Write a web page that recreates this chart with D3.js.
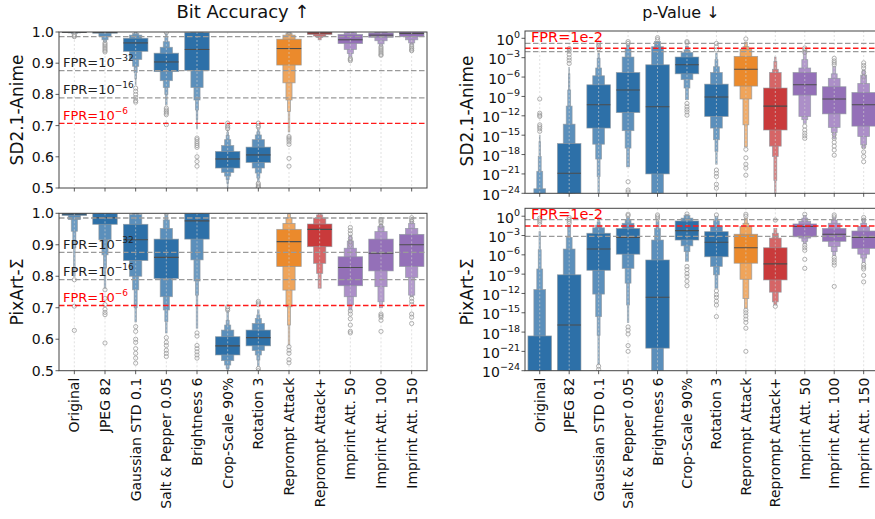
<!DOCTYPE html>
<html>
<head>
<meta charset="utf-8">
<script src="https://cdn.jsdelivr.net/npm/d3@7"></script>
<style>
  body { margin: 0; background: #fff; }
  svg text { font-family: "DejaVu Sans", sans-serif; fill: #111; }
</style>
</head>
<body>
<svg id="chart" width="875" height="519"></svg>
<script>
// ---- data ----
const categories = ['Original', 'JPEG 82', 'Gaussian STD 0.1', 'Salt & Pepper 0.05', 'Brightness 6',
  'Crop-Scale 90%', 'Rotation 3', 'Reprompt Attack', 'Reprompt Attack+',
  'Imprint Att. 50', 'Imprint Att. 100', 'Imprint Att. 150'];
const attackGroup = ['distortion', 'distortion', 'distortion', 'distortion', 'distortion', 'distortion',
  'distortion', 'reprompt', 'reprompt+', 'imprint', 'imprint', 'imprint'];
const groupColors = ['#2d70a8', '#eb8a2c', '#c93a3b', '#9470b8'];

const accTicks = [0.5, 0.6, 0.7, 0.8, 0.9, 1.0];
const pTickExps = [0, -3, -6, -9, -12, -15, -18, -21, -24];

// bit accuracy thresholds (gray: 1e-32 / 1e-16 / top, red: 1e-6)
const accGrayLines = [0.985, 0.876, 0.789];
const accRedLine = 0.707;
const accLineLabels = [['FPR=10', '−32', 0.876, 'gray'], ['FPR=10', '−16', 0.789, 'gray'], ['FPR=10', '−6', 0.707, 'red']];

// letter-value levels [lo, hi], innermost (IQR) first
const sdAccLevels = [
  [[0.999, 1.0], [0.997, 1.0], [0.995, 1.0]],
  [[0.996, 1.0], [0.986, 1.0], [0.975, 1.0], [0.968, 1.0]],
  [[0.938, 0.98], [0.912, 0.99], [0.89, 0.995], [0.87, 0.998], [0.85, 0.999], [0.83, 1.0]],
  [[0.873, 0.932], [0.844, 0.951], [0.822, 0.969], [0.80, 0.985], [0.766, 0.995]],
  [[0.877, 0.998], [0.822, 1.0], [0.782, 1.0], [0.75, 1.0], [0.72, 1.0], [0.69, 1.0]],
  [[0.564, 0.617], [0.55, 0.636], [0.538, 0.655], [0.527, 0.668], [0.515, 0.678], [0.5, 0.685]],
  [[0.582, 0.631], [0.564, 0.655], [0.548, 0.67], [0.532, 0.68], [0.52, 0.69]],
  [[0.894, 0.977], [0.837, 0.99], [0.782, 0.995], [0.745, 0.998], [0.68, 1.0]],
  [[0.992, 1.0], [0.987, 1.0], [0.982, 1.0], [0.975, 1.0]],
  [[0.963, 0.992], [0.944, 0.998], [0.931, 1.0], [0.92, 1.0]],
  [[0.983, 0.997], [0.972, 1.0], [0.962, 1.0], [0.955, 1.0]],
  [[0.985, 1.0], [0.975, 1.0], [0.965, 1.0], [0.96, 1.0]]
];
const sdAccMedians = [0.999, 0.999, 0.965, 0.904, 0.944, 0.593, 0.606, 0.947, 0.997, 0.975, 0.99, 0.995];
const sdAccFliers = [
  [0.992, 0.988, 0.985],
  [0.965, 0.96, 0.955, 0.95, 0.945, 0.94, 0.936],
  [0.82, 0.81, 0.80, 0.79, 0.78, 0.775],
  [0.756, 0.75, 0.745, 0.74, 0.735, 0.703, 0.998],
  [0.66, 0.655, 0.648, 0.642, 0.636, 0.63, 0.60, 0.585, 0.57],
  [0.708, 0.70, 0.695, 0.69],
  [0.708, 0.70, 0.695, 0.515, 0.51, 0.505, 0.502],
  [0.665, 0.66, 0.655, 0.648, 0.64, 0.595, 0.57, 0.998],
  [],
  [0.915, 0.912, 0.908],
  [0.953, 0.948, 0.943, 0.938, 0.933, 0.928, 0.925],
  [0.958, 0.952, 0.947, 0.942, 0.94]
];

const pxAccLevels = [
  [[0.993, 1.0], [0.98, 1.0], [0.943, 1.0], [0.89, 1.0], [0.80, 1.0]],
  [[0.965, 1.0], [0.916, 1.0], [0.868, 1.0], [0.826, 1.0], [0.762, 1.0]],
  [[0.85, 0.965], [0.80, 0.996], [0.757, 1.0], [0.70, 1.0], [0.655, 1.0]],
  [[0.793, 0.918], [0.735, 0.952], [0.693, 0.979], [0.656, 0.995], [0.62, 1.0]],
  [[0.918, 1.0], [0.852, 1.0], [0.785, 1.0], [0.74, 1.0], [0.635, 1.0]],
  [[0.55, 0.608], [0.532, 0.629], [0.518, 0.645], [0.507, 0.66], [0.5, 0.69]],
  [[0.579, 0.629], [0.564, 0.65], [0.55, 0.666], [0.534, 0.677], [0.513, 0.693]],
  [[0.831, 0.949], [0.756, 0.968], [0.703, 0.986], [0.645, 0.998], [0.582, 1.0]],
  [[0.894, 0.966], [0.841, 0.985], [0.809, 0.995], [0.762, 1.0]],
  [[0.77, 0.862], [0.735, 0.889], [0.709, 0.912], [0.693, 0.93]],
  [[0.817, 0.918], [0.767, 0.942], [0.719, 0.958], [0.70, 0.965]],
  [[0.831, 0.933], [0.796, 0.952], [0.74, 0.968], [0.735, 0.975]]
];
const pxAccMedians = [0.998, 0.986, 0.916, 0.86, 0.976, 0.579, 0.605, 0.91, 0.949, 0.828, 0.873, 0.9];
const pxAccFliers = [
  [0.789, 0.705, 0.628],
  [0.757, 0.73, 0.71, 0.695, 0.685, 0.678, 0.588],
  [0.64, 0.625, 0.60, 0.59, 0.57, 0.555, 0.54, 0.524],
  [0.605, 0.59, 0.58, 0.565, 0.555, 0.545, 1.0],
  [0.62, 0.61, 0.58, 0.57, 0.56, 0.55, 0.54],
  [0.703, 0.697, 0.692],
  [0.72, 0.715, 0.71, 0.507, 0.5],
  [0.576, 0.565, 0.555, 0.535, 0.525],
  [],
  [0.955, 0.945, 0.935, 0.92, 0.91, 0.9, 0.69, 0.68, 0.665, 0.645, 0.625, 0.62],
  [0.98, 0.975, 0.97, 0.96, 0.68, 0.675, 0.67, 0.66, 0.625],
  [0.986, 0.98, 0.974, 0.73, 0.72, 0.71, 0.68, 0.67, 0.65]
];

// p-values, stored as log10 exponents
const sdPvalGrayLines = [-0.78, -2.07];
const sdPvalRedLine = -1.53;
const sdPvalLevels = [
  [[-30, -25], [-30, -23.3], [-30, -20.6], [-30, -18.3], [-30, -16], [-30, -15]],
  [[-30, -16.3], [-30, -13.3], [-30, -10.5], [-30, -8], [-30, -5.5], [-30, -4.5]],
  [[-13.9, -7.2], [-16.4, -5.8], [-18.7, -4.6], [-21.4, -3.1], [-24.5, -2.3]],
  [[-11.5, -5.3], [-14.3, -2.9], [-17, -1.6], [-19.9, -1.0]],
  [[-21, -4.1], [-30, -1.3], [-30, -0.5]],
  [[-5.5, -2.9], [-6.4, -2.2], [-7.7, -1.8], [-9.5, -1.2]],
  [[-12.1, -7.1], [-13.9, -5.3], [-15.7, -4.4], [-17.5, -3.3], [-19.5, -2.3]],
  [[-7.4, -2.8], [-9.4, -1.7], [-13.4, -1.3], [-16.8, -0.6]],
  [[-14.2, -7.7], [-16.7, -5.3], [-18.3, -4.8], [-22, -3.6], [-24.5, -2.9]],
  [[-8.8, -5.3], [-12.1, -4.6], [-12.6, -3.3], [-13.2, -1.9]],
  [[-11.7, -7.5], [-13.8, -6.2], [-14.6, -5.5], [-15.5, -4.4]],
  [[-13.6, -8.4], [-15.2, -7], [-16.5, -5.7], [-17, -4.9]]
];
const sdPvalMedians = [-27, -20.9, -10.3, -8.0, -10.6, -4.1, -9.1, -4.8, -10.5, -7.2, -9.4, -10.3];
const sdPvalFliers = [
  [-9.4, -11.6, -11.9, -12.1, -13.4, -13.7, -14.0, -14.4],
  [-1.6, -2, -2.5, -3, -3.4, -3.9],
  [-0.8, -1.2, -1.6],
  [-0.8, -0.5, -22.2, -23.5, -23.8],
  [0.1, -0.2],
  [-0.5, -0.7, -10.1, -10.6, -11, -11.4, -11.9],
  [-0.8, -1.3, -1.8, -20.4, -20.9, -21.4, -22.6, -23.2],
  [-0.1, -17.2, -18.5, -19.5, -20.1, -21.2],
  [],
  [-1.5, -1.8, -2.2, -13.6, -14.2, -14.7, -15.1, -15.5],
  [-3.1, -3.5, -3.8, -4.1, -14.9, -15.5, -16.1, -16.7, -17.3, -18.1],
  [-3.8, -4.2, -4.6, -5.3, -6.0, -16.8, -17.6, -18.3, -19.1]
];

const pxPvalGrayLines = [-0.53, -3.12];
const pxPvalRedLine = -1.51;
const pxPvalLevels = [
  [[-30, -18.6], [-30, -11.4], [-30, -8.2], [-30, -5.2], [-30, -2.4]],
  [[-30, -9.1], [-30, -5.1], [-30, -3.3], [-30, -1.4]],
  [[-8.4, -2.65], [-12.1, -1.8], [-15.6, -1.4], [-18.5, -0.9], [-23, -0.6]],
  [[-5.9, -1.9], [-8.1, -1.1], [-10.4, -0.6], [-13.8, -0.2], [-16.5, 0]],
  [[-20.5, -6.8], [-30, -3.7], [-30, -1.9], [-30, -0.8]],
  [[-3.7, -0.74], [-4.6, -0.3], [-5.5, 0.1], [-7, 0.25]],
  [[-6.3, -2.4], [-7.8, -1.6], [-9.1, -0.7], [-11.2, 0]],
  [[-7.3, -2.8], [-9.8, -1.6], [-12.8, -1.1], [-14.3, -0.3]],
  [[-9.9, -4.9], [-11.8, -3.4], [-13.3, -2.65], [-13.8, -1.9]],
  [[-3.2, -1.2], [-3.4, -0.8], [-3.9, -0.3], [-4.3, 0.1]],
  [[-3.9, -1.9], [-4.7, -1.1], [-5.5, -0.6], [-6.1, -0.2]],
  [[-5.0, -2.3], [-5.9, -1.6], [-6.5, -1.1], [-7.2, -0.4]]
];
const pxPvalMedians = [-27, -16.9, -5.1, -3.3, -12.6, -2.24, -4.05, -4.9, -7.4, -1.6, -2.8, -3.3];
const pxPvalFliers = [
  [-0.3, -0.6, -0.9, -1.3],
  [-0.2, -0.5, -0.8, -1.1],
  [-23.3, -23.8],
  [0.3, 0.1, -17.2, -17.7, -18.3, -20.1, -21],
  [0.2, -0.1, -0.4],
  [0.35, -7.8, -8.3, -8.9, -9.4, -10.1, -10.8],
  [0.2, -11.6, -12.2, -12.6, -13.2, -13.8, -15.6],
  [0.3, 0, -14.6, -15, -15.5, -16, -16.5, -17.4, -21],
  [-0.6, -14.0],
  [0.3, -4.5, -4.9, -5.3, -6.7, -8.1],
  [0.2, -0.1, -6.4, -6.8, -7.2, -7.6, -10.9],
  [-0.2, -0.6, -7.5, -7.9, -8.2, -9.2, -10.2]
];

// ---- drawing ----
const svg = d3.select('#chart');
const colorScale = d3.scaleOrdinal().domain(['distortion', 'reprompt', 'reprompt+', 'imprint']).range(groupColors);

// lighter tint for each outer letter-value level
function levelMix(i) {
  return i === 0 ? 0 : Math.min(0.22 + 0.08 * (i - 1), 0.6);
}

const panels = [
  { id: 'a0', kind: 'acc', x0: 59, x1: 427, y0: 32, y1: 188, levels: sdAccLevels, medians: sdAccMedians, fliers: sdAccFliers, xLabels: false },
  { id: 'a1', kind: 'acc', x0: 59, x1: 427, y0: 213.3, y1: 370.7, levels: pxAccLevels, medians: pxAccMedians, fliers: pxAccFliers, xLabels: true },
  { id: 'p0', kind: 'p', top: 1.13, x0: 525, x1: 878.4, y0: 31, y1: 193.3, levels: sdPvalLevels, medians: sdPvalMedians, fliers: sdPvalFliers,
    gray: sdPvalGrayLines, red: sdPvalRedLine, xLabels: false },
  { id: 'p1', kind: 'p', top: 1.23, x0: 525, x1: 878.4, y0: 208.3, y1: 370.7, levels: pxPvalLevels, medians: pxPvalMedians, fliers: pxPvalFliers,
    gray: pxPvalGrayLines, red: pxPvalRedLine, xLabels: true }
];

const defs = svg.append('defs');

function drawPanel(p) {
  const isP = p.kind === 'p';
  const x = d3.scaleBand().domain(categories).range([p.x0, p.x1]).paddingInner(0).paddingOuter(0);
  const y = isP
    ? d3.scaleLog().domain([1e-24, Math.pow(10, p.top)]).range([p.y1, p.y0])
    : d3.scaleLinear().domain([0.5, 1.0]).range([p.y1, p.y0]);
  const val = v => isP ? Math.pow(10, v) : v;
  const bw = x.bandwidth() * 0.8;

  defs.append('clipPath').attr('id', 'clip-' + p.id)
    .append('rect').attr('x', p.x0).attr('y', p.y0).attr('width', p.x1 - p.x0).attr('height', p.y1 - p.y0);

  const g = svg.append('g');
  const plot = g.append('g').attr('clip-path', `url(#clip-${p.id})`);

  // boxes
  categories.forEach((c, ci) => {
    const cx = x(c) + x.bandwidth() / 2;
    const main = colorScale(attackGroup[ci]);
    const lv = p.levels[ci];
    for (let i = lv.length - 1; i >= 0; i--) {
      const w = bw * Math.pow(0.5, i);
      const col = d3.interpolateRgb(main, '#ffffff')(levelMix(i));
      const yTop = y(val(lv[i][1]));
      const yBot = y(val(lv[i][0]));
      plot.append('rect')
        .attr('x', cx - w / 2).attr('y', yTop)
        .attr('width', w).attr('height', Math.max(0.3, yBot - yTop))
        .attr('fill', col)
        .attr('stroke', '#8f979e').attr('stroke-opacity', 0.75).attr('stroke-width', 0.8);
    }
    plot.append('line')
      .attr('x1', cx - bw / 2).attr('x2', cx + bw / 2)
      .attr('y1', y(val(p.medians[ci]))).attr('y2', y(val(p.medians[ci])))
      .attr('stroke', '#4d4d4d').attr('stroke-width', 1.1);
    plot.selectAll(null).data(p.fliers[ci]).enter().append('circle')
      .attr('cx', cx).attr('cy', d => y(val(d))).attr('r', 2.1)
      .attr('fill', 'none').attr('stroke', '#9a9a9a').attr('stroke-width', 0.8);
  });

  // vertical category grid, drawn over the boxes like the original
  plot.selectAll('.vgrid').data(categories).enter().append('line')
    .attr('x1', d => x(d) + x.bandwidth() / 2).attr('x2', d => x(d) + x.bandwidth() / 2)
    .attr('y1', p.y0).attr('y2', p.y1)
    .attr('stroke', '#cfcfcf').attr('stroke-opacity', 0.8).attr('stroke-width', 0.8)
    .attr('stroke-dasharray', '2,2');

  // threshold lines
  const grays = isP ? p.gray : accGrayLines;
  const red = isP ? p.red : accRedLine;
  plot.selectAll('.gline').data(grays).enter().append('line')
    .attr('x1', p.x0).attr('x2', p.x1)
    .attr('y1', d => y(val(d))).attr('y2', d => y(val(d)))
    .attr('stroke', '#9a9a9a').attr('stroke-width', 1.3).attr('stroke-dasharray', '5.5,2.5');
  plot.append('line')
    .attr('x1', p.x0).attr('x2', p.x1)
    .attr('y1', y(val(red))).attr('y2', y(val(red)))
    .attr('stroke', '#ff1a1a').attr('stroke-width', 1.4).attr('stroke-dasharray', '5.5,2.5');

  // threshold labels
  if (isP) {
    g.append('text').attr('x', p.x0 + 6).attr('y', y(val(red)) - 6.5)
      .style('font-size', '14.5px').style('fill', '#ff0000').text('FPR=1e-2');
  } else {
    accLineLabels.forEach(l => {
      const fill = l[3] === 'red' ? '#ff0000' : '#222';
      const t = g.append('text').attr('x', p.x0 + 4).attr('y', y(l[2]) - 3.5)
        .style('font-size', '13px').style('fill', fill);
      t.append('tspan').text(l[0]);
      t.append('tspan').attr('dy', -6).style('font-size', '9px').style('fill', fill).text(l[1]);
    });
  }

  // frame
  g.append('rect').attr('x', p.x0).attr('y', p.y0).attr('width', p.x1 - p.x0).attr('height', p.y1 - p.y0)
    .attr('fill', 'none').attr('stroke', '#444').attr('stroke-width', 1);

  // y ticks + labels
  const yt = isP ? pTickExps : accTicks;
  yt.forEach(t => {
    const yy = y(val(t));
    g.append('line').attr('x1', p.x0 - 3.5).attr('x2', p.x0).attr('y1', yy).attr('y2', yy)
      .attr('stroke', '#333').attr('stroke-width', 0.8);
    if (isP) {
      const txt = g.append('text').attr('x', p.x0 - 5).attr('y', yy + 6.5)
        .attr('text-anchor', 'end').style('font-size', '14px');
      txt.append('tspan').text('10');
      txt.append('tspan').attr('dy', -7).style('font-size', '9.5px')
        .text(t === 0 ? '0' : '−' + Math.abs(t));
    } else {
      g.append('text').attr('x', p.x0 - 5).attr('y', yy + 5)
        .attr('text-anchor', 'end').style('font-size', '14px').text(d3.format('.1f')(t));
    }
  });

  // x ticks
  categories.forEach(c => {
    const cx = x(c) + x.bandwidth() / 2;
    g.append('line').attr('x1', cx).attr('x2', cx).attr('y1', p.y1).attr('y2', p.y1 + 3.5)
      .attr('stroke', '#333').attr('stroke-width', 0.8);
    if (p.xLabels) {
      g.append('text')
        .attr('transform', `translate(${cx + 5},${p.y1 + 7}) rotate(-90)`)
        .attr('text-anchor', 'end').style('font-size', '14px').text(c);
    }
  });
}

panels.forEach(drawPanel);

// titles and row labels
svg.append('text').attr('x', 243).attr('y', 17.5).attr('text-anchor', 'middle')
  .style('font-size', '18px').text('Bit Accuracy ↑');
svg.append('text').attr('x', 681).attr('y', 17.5).attr('text-anchor', 'middle')
  .style('font-size', '16px').text('p-Value ↓');

const rowLabels = [['SD2.1-Anime', 22.5, 110], ['PixArt-Σ', 22.5, 292], ['SD2.1-Anime', 472.5, 111], ['PixArt-Σ', 472.5, 292]];
rowLabels.forEach(r => {
  svg.append('text').attr('transform', `translate(${r[1]},${r[2]}) rotate(-90)`)
    .attr('text-anchor', 'middle').style('font-size', '17px').text(r[0]);
});
</script>
</body>
</html>
